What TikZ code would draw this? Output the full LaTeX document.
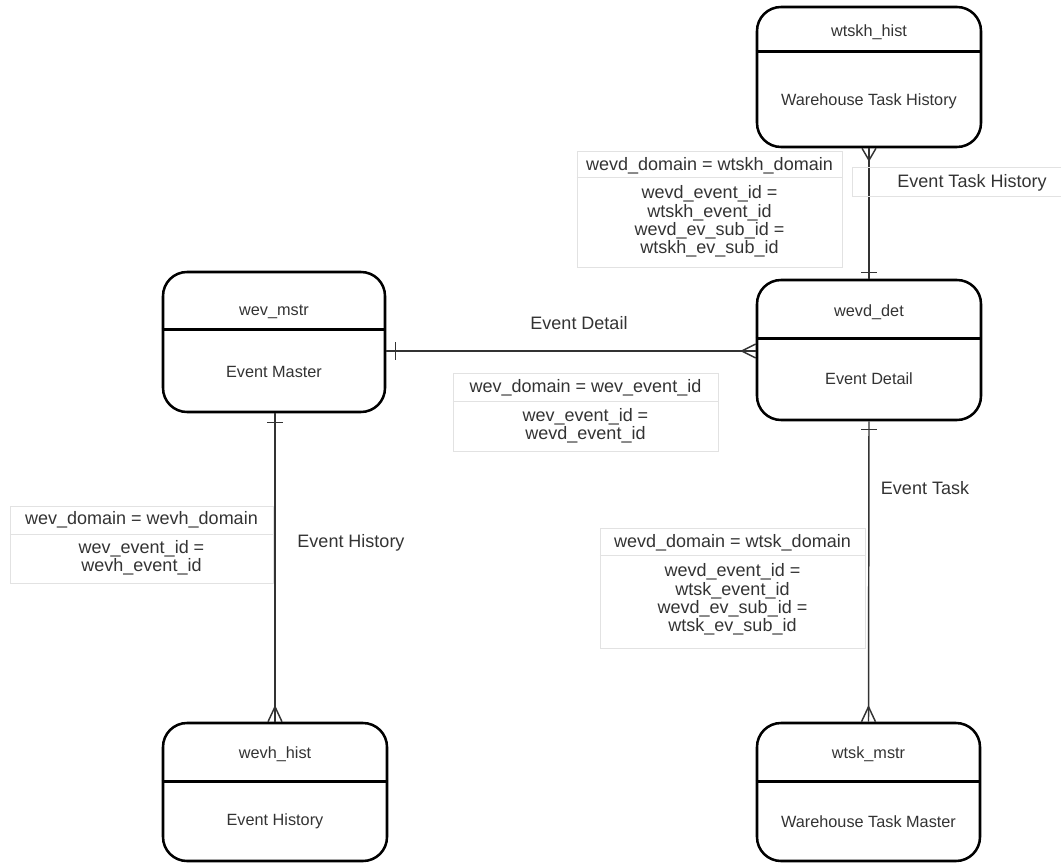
\documentclass[tikz,border=0pt]{standalone}
\usepackage{fontspec}
\setmainfont{Liberation Sans}
\usetikzlibrary{fit,calc}
\definecolor{ink}{HTML}{333333}
\definecolor{gridgray}{HTML}{E2E2E2}
\begin{document}
\begin{tikzpicture}[x=0.75pt,y=-0.75pt,
  entbox/.style={draw=black, line width=1.9pt, rounded corners=18pt, inner sep=0pt},
  entline/.style={draw=black, line width=1.9pt},
  enttext/.style={text=ink, font=\fontsize{12.2pt}{14pt}\selectfont, inner sep=0pt},
  rel/.style={draw=ink, line width=1.1pt},
  reltext/.style={text=ink, font=\fontsize{13.5pt}{16pt}\selectfont, inner sep=0pt},
  condbox/.style={draw=gridgray, line width=0.75pt, inner sep=0pt},
  condtext/.style={text=ink, font=\fontsize{13.5pt}{13.8pt}\selectfont, align=center, inner sep=0pt},
]
\useasboundingbox (0,0) rectangle (1061,863);

% ---------- entities ----------
\node[entbox, fit={(757,7) (981,147)}] (wtskh) {};
\draw[entline] ($(wtskh.north west)+(0,46)$) -- ($(wtskh.north east)+(0,46)$);
\node[enttext] (wtskh-name) at ($(wtskh.north)+(0,26)$) {wtskh\_hist};
\node[enttext] (wtskh-desc) at ($(wtskh.north)+(0,96)$) {Warehouse Task History};

\node[entbox, fit={(163,272) (385,412)}] (wev) {};
\draw[entline] ($(wev.north west)+(0,59)$) -- ($(wev.north east)+(0,59)$);
\node[enttext] (wev-name) at ($(wev.north)+(0,41)$) {wev\_mstr};
\node[enttext] (wev-desc) at ($(wev.north)+(0,101)$) {Event Master};

\node[entbox, fit={(757,280) (981,420)}] (wevd) {};
\draw[entline] ($(wevd.north west)+(0,60)$) -- ($(wevd.north east)+(0,60)$);
\node[enttext] (wevd-name) at ($(wevd.north)+(0,33)$) {wevd\_det};
\node[enttext] (wevd-desc) at ($(wevd.north)+(0,100)$) {Event Detail};

\node[entbox, fit={(163,723) (387,861)}] (wevh) {};
\draw[entline] ($(wevh.north west)+(0,60)$) -- ($(wevh.north east)+(0,60)$);
\node[enttext] (wevh-name) at ($(wevh.north)+(0,32)$) {wevh\_hist};
\node[enttext] (wevh-desc) at ($(wevh.north)+(0,100)$) {Event History};

\node[entbox, fit={(757,723) (980,861)}] (wtsk) {};
\draw[entline] ($(wtsk.north west)+(0,60)$) -- ($(wtsk.north east)+(0,60)$);
\node[enttext] (wtsk-name) at ($(wtsk.north)+(0,32)$) {wtsk\_mstr};
\node[enttext] (wtsk-desc) at ($(wtsk.north)+(0,100)$) {Warehouse Task Master};

% ---------- relationships ----------
% wevd_det -- wtskh_hist (one to many)
\draw[rel] (wtskh.south) -- (wevd.north);
\draw[rel] ($(wtskh.south)+(-7,0)$) -- ($(wtskh.south)+(0,12)$) -- ($(wtskh.south)+(7,0)$);
\draw[rel] ($(wevd.north)+(-8,-6)$) -- ($(wevd.north)+(8,-6)$);

% wev_mstr -- wevd_det (one to many)
\coordinate (rowline) at (0,351);
\coordinate (evL) at (wev.east |- rowline);
\coordinate (evR) at (wevd.west |- rowline);
\draw[rel] (evL) -- (evR);
\draw[rel] ($(evL)+(9,-9)$) -- ($(evL)+(9,9)$);
\draw[rel] ($(evR)+(0,-7)$) -- ($(evR)+(-14,0)$) -- ($(evR)+(0,7)$);

% wev_mstr -- wevh_hist (one to many)
\coordinate (ehT) at (wevh.north |- wev.south);
\draw[rel] (ehT) -- (wevh.north);
\draw[rel] ($(ehT)+(-8,9)$) -- ($(ehT)+(8,9)$);
\draw[rel] ($(wevh.north)+(-7,0)$) -- ($(wevh.north)+(0,-15)$) -- ($(wevh.north)+(7,0)$);

% wevd_det -- wtsk_mstr (one to many)
\draw[rel] (wevd.south) -- (wtsk.north);
\draw[rel] ($(wevd.south)+(-8,8)$) -- ($(wevd.south)+(8,8)$);
\draw[rel] ($(wtsk.north)+(-7,0)$) -- ($(wtsk.north)+(0,-15)$) -- ($(wtsk.north)+(7,0)$);

% ---------- relationship names ----------
\node[condbox, fit={(852,168) (1066,197)}] (eth-box) {};
\node[reltext] (eth) at (972,183) {Event Task History};
\node[reltext] (ed) at (579,323) {Event Detail};
\node[reltext] (eh) at (351,543) {Event History};
\node[reltext] (et) at (925,488) {Event Task};

% ---------- join conditions ----------
\node[condbox, fit={(577,152) (842,268)}] (c1) {};
\draw[condbox] ($(c1.north west)+(0,26)$) -- ($(c1.north east)+(0,26)$);
\node[condtext] (c1a) at ($(c1.north)+(0,14)$) {wevd\_domain = wtskh\_domain};
\node[condtext] (c1b) at ($(c1.north)+(0,70)$) {wevd\_event\_id =\\wtskh\_event\_id\\wevd\_ev\_sub\_id =\\wtskh\_ev\_sub\_id};

\node[condbox, fit={(453,373) (718,451)}] (c2) {};
\draw[condbox] ($(c2.north west)+(0,29)$) -- ($(c2.north east)+(0,29)$);
\node[condtext] (c2a) at ($(c2.north)+(0,15)$) {wev\_domain = wev\_event\_id};
\node[condtext] (c2b) at ($(c2.north)+(0,53.5)$) {wev\_event\_id =\\wevd\_event\_id};

\node[condbox, fit={(10,506) (273,583)}] (c3) {};
\draw[condbox] ($(c3.north west)+(0,29)$) -- ($(c3.north east)+(0,29)$);
\node[condtext] (c3a) at ($(c3.north)+(0,14)$) {wev\_domain = wevh\_domain};
\node[condtext] (c3b) at ($(c3.north)+(0,52.5)$) {wev\_event\_id =\\wevh\_event\_id};

\node[condbox, fit={(600,528) (865,648)}] (c4) {};
\draw[condbox] ($(c4.north west)+(0,28)$) -- ($(c4.north east)+(0,28)$);
\node[condtext] (c4a) at ($(c4.north)+(0,15)$) {wevd\_domain = wtsk\_domain};
\node[condtext] (c4b) at ($(c4.north)+(0,72)$) {wevd\_event\_id =\\wtsk\_event\_id\\wevd\_ev\_sub\_id =\\wtsk\_ev\_sub\_id};
\end{tikzpicture}
\end{document}
